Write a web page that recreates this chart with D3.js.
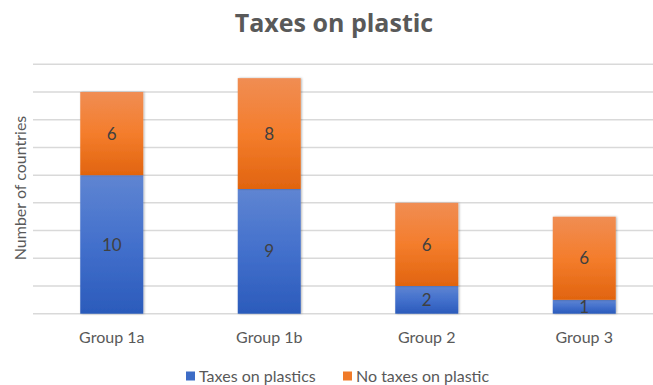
<!DOCTYPE html>
<html>
<head>
<meta charset="utf-8">
<script src="https://cdn.jsdelivr.net/npm/d3@7/dist/d3.min.js"></script>
<style>
  html, body { margin: 0; padding: 0; background: #fff; }
  svg { display: block; }
</style>
</head>
<body>
<svg id="chart" width="653" height="385"></svg>
<script>
// Countries per group, split by whether they tax plastic
const groups = ["Group 1a", "Group 1b", "Group 2", "Group 3"];
const taxes = [10, 9, 2, 1];
const noTaxes = [6, 8, 6, 6];
const seriesNames = ["Taxes on plastics", "No taxes on plastic"];
const gridTicks = [0, 2, 4, 6, 8, 10, 12, 14, 16, 18];

const W = 653, H = 385;
const svg = d3.select("#chart");
const defs = svg.append("defs");

// Vertical gradients: lighter at the top, deeper at the bottom
function gradient(id, stops) {
  const g = defs.append("linearGradient").attr("id", id)
    .attr("x1", 0).attr("y1", 0).attr("x2", 0).attr("y2", 1);
  stops.forEach(([o, c]) => g.append("stop").attr("offset", o).attr("stop-color", c));
}
gradient("gBlue", [[0, "#5f85d2"], [0.5, "#4370cc"], [1, "#2b5bbb"]]);
gradient("gOrange", [[0, "#f08d53"], [0.5, "#f47d2c"], [1, "#e1640f"]]);

const shadow = defs.append("filter").attr("id", "shadow")
  .attr("x", "-20%").attr("y", "-10%").attr("width", "140%").attr("height", "120%");
shadow.append("feDropShadow").attr("dx", 1).attr("dy", 0).attr("stdDeviation", 1.2)
  .attr("flood-color", "#000").attr("flood-opacity", 0.3);

const x = d3.scaleBand().domain(groups).range([33, 663]).paddingInner(0.6).paddingOuter(0.3);
const y = d3.scaleLinear().domain([0, 18]).range([313.7, 64.3]);

// Horizontal gridlines
svg.append("g").selectAll("line").data(gridTicks).join("line")
  .attr("x1", 33).attr("x2", W)
  .attr("y1", d => y(d)).attr("y2", d => y(d))
  .attr("stroke", "#d9d9d9").attr("stroke-width", 1.5);

// Stack the two series
const rows = groups.map((g, i) => ({ group: g, taxes: taxes[i], noTaxes: noTaxes[i] }));
const stack = d3.stack().keys(["taxes", "noTaxes"])(rows);
const fills = ["url(#gBlue)", "url(#gOrange)"];

const barW = 63;
const layers = svg.append("g").selectAll("g").data(stack).join("g")
  .attr("fill", (d, i) => fills[i]);

layers.selectAll("rect").data(d => d).join("rect")
  .attr("x", d => x(d.data.group) + x.bandwidth() / 2 - barW / 2)
  .attr("width", barW)
  .attr("y", d => y(d[1]))
  .attr("height", d => y(d[0]) - y(d[1]))
  .attr("filter", "url(#shadow)");

// Value labels in each segment
layers.selectAll("text").data(d => d).join("text")
  .attr("x", d => x(d.data.group) + x.bandwidth() / 2)
  .attr("y", d => (y(d[0]) + y(d[1])) / 2)
  .attr("dy", "0.36em")
  .attr("text-anchor", "middle")
  .attr("font-family", "Lato, 'Open Sans', sans-serif")
  .attr("font-size", 17)
  .attr("fill", "#404040")
  .text(d => d[1] - d[0]);

// Category axis labels
const xAxis = d3.axisBottom(x).tickSize(0).tickPadding(0);
const xg = svg.append("g").attr("transform", "translate(0,337)").call(xAxis);
xg.select(".domain").remove();
xg.selectAll("text")
  .attr("dy", "0.36em")
  .attr("font-family", "Lato, 'Open Sans', sans-serif")
  .attr("font-size", 16)
  .attr("fill", "#595959");

// Title
svg.append("text")
  .attr("x", 334).attr("y", 32)
  .attr("text-anchor", "middle")
  .attr("font-family", "'Open Sans', 'Noto Sans', sans-serif")
  .attr("font-weight", 700)
  .attr("font-size", 25)
  .attr("fill", "#595959")
  .text("Taxes on plastic");

// Y axis title
svg.append("text")
  .attr("transform", "translate(20,188) rotate(-90)")
  .attr("text-anchor", "middle")
  .attr("dy", "0.36em")
  .attr("font-family", "Lato, 'Open Sans', sans-serif")
  .attr("font-size", 16)
  .attr("fill", "#595959")
  .text("Number of countries");

// Legend
const legendColors = ["#3d6cc6", "#f07a28"];
const legendX = [186, 343];
const lg = svg.append("g").selectAll("g").data(seriesNames).join("g")
  .attr("transform", (d, i) => `translate(${legendX[i]},376)`);
lg.append("rect").attr("x", 0).attr("y", -4.5).attr("width", 9).attr("height", 9)
  .attr("fill", (d, i) => legendColors[i]);
lg.append("text").attr("x", 13).attr("dy", "0.36em")
  .attr("font-family", "Lato, 'Open Sans', sans-serif")
  .attr("font-size", 16)
  .attr("fill", "#595959")
  .text(d => d);
</script>
</body>
</html>
